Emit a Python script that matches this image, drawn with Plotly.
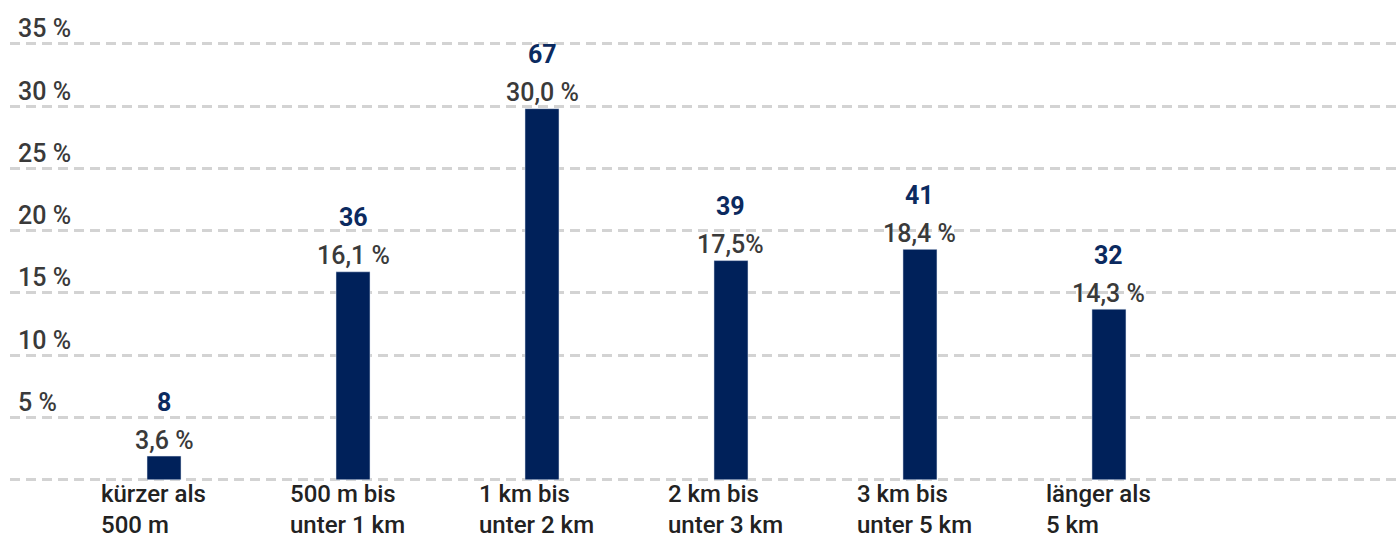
import plotly.graph_objects as go

categories = ["kürzer als<br>500 m", "500 m bis<br>unter 1 km", "1 km bis<br>unter 2 km",
              "2 km bis<br>unter 3 km", "3 km bis<br>unter 5 km", "länger als<br>5 km"]
bar_heights = [1.9, 16.7, 29.8, 17.6, 18.5, 13.7]   # as drawn in the picture (%)
pct_labels = ["3,6 %", "16,1 %", "30,0 %", "17,5%", "18,4 %", "14,3 %"]
counts = [8, 36, 67, 39, 41, 32]
y_ticks = [5, 10, 15, 20, 25, 30, 35]
y_tick_labels = ["5 %", "10 %", "15 %", "20 %", "25 %", "30 %", "35 %"]

FONT = "Roboto"
NAVY = "#00215a"
GREY = "#3a3a3a"

fig = go.Figure()
fig.add_trace(go.Bar(x=categories, y=bar_heights, marker_color=NAVY, width=0.18,
                     hoverinfo="skip"))

ann = []
for c, h, p, n in zip(categories, bar_heights, pct_labels, counts):
    ann.append(dict(x=c, y=h, text=p, showarrow=False, xanchor="center", yanchor="middle",
                    yshift=16, font=dict(family=FONT, size=25, color=GREY, weight=500)))
    ann.append(dict(x=c, y=h, text=str(n), showarrow=False, xanchor="center",
                    yanchor="middle", yshift=54,
                    font=dict(family=FONT, size=25, color="#0b2a5f", weight=700)))
    ann.append(dict(x=c, y=0, text=c, showarrow=False, xanchor="left", yanchor="top",
                    align="left", xshift=-64, yshift=1, borderpad=0,
                    font=dict(family=FONT, size=24, color="#222222", weight=500)))
for v, t in zip(y_ticks, y_tick_labels):
    ann.append(dict(x=0, xref="paper", y=v, text=t, showarrow=False, xanchor="left",
                    yanchor="middle", xshift=6, yshift=15,
                    font=dict(family=FONT, size=25, color=GREY, weight=500)))

fig.update_layout(
    width=1400, height=542,
    margin=dict(l=10, r=0, t=19, b=0),
    paper_bgcolor="white", plot_bgcolor="white",
    showlegend=False,
    annotations=ann,
    xaxis=dict(type="category", range=[-0.815, 6.54], showticklabels=False,
               showgrid=False, zeroline=False, showline=False, ticks=""),
    yaxis=dict(range=[-5, 37], tickvals=[0] + y_ticks, showticklabels=False,
               showgrid=True, gridcolor="#d3d3d3", gridwidth=2.5, griddash="10px,6px",
               zeroline=False, showline=False, ticks=""),
)

fig.write_html("out.html")
